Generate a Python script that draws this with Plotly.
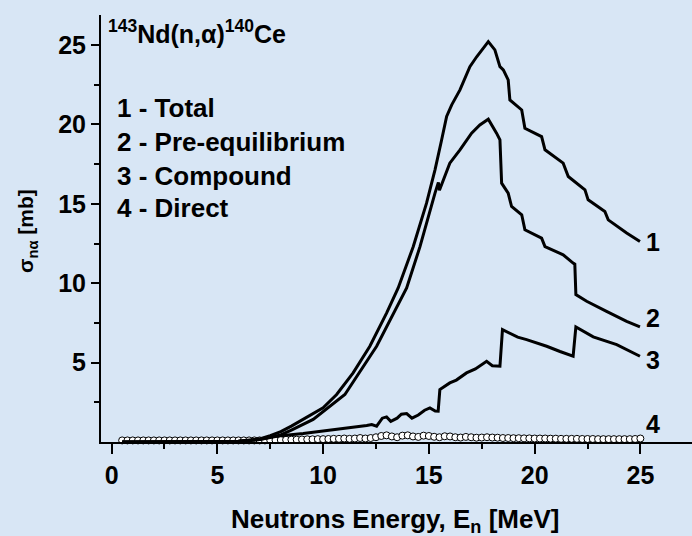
import plotly.graph_objects as go

# ---- data ----
E_total = [0.5, 2, 4, 5, 6, 7, 7.5, 8, 8.5, 9.06, 10.0, 10.64, 11.42, 12.21, 13.0, 13.55, 14.26,
           14.89, 15.29, 15.6, 15.84, 16.08, 16.47, 16.94, 17.26, 17.81, 18.12, 18.36, 18.52,
           18.75, 18.83, 19.39, 19.54, 20.33, 20.49, 21.35, 21.59, 22.38, 22.53, 23.32, 23.48,
           24.35, 24.98]
S_total = [0.0, 0.0, 0.0, 0.01, 0.05, 0.2, 0.4, 0.65, 1.0, 1.42, 2.15, 2.99, 4.35, 6.03, 8.12, 9.7, 12.3,
           15.04, 17.14, 19.0, 20.5, 21.23, 22.17, 23.64, 24.26, 25.21, 24.69, 23.64, 23.43,
           22.8, 21.54, 20.91, 19.76, 19.23, 18.4, 17.56, 16.72, 15.88, 15.25, 14.52, 13.99,
           13.16, 12.63]

E_preeq = [0.5, 5, 6, 7, 7.5, 8.0, 8.5, 9.53, 11.03, 12.53, 13.95, 14.58, 15.29, 15.45, 15.5,
           15.76, 15.99, 16.47, 17.02, 17.41, 17.81, 18.2, 18.36, 18.44, 18.75, 18.91, 19.39,
           19.54, 20.33, 20.49, 21.35, 21.82, 21.9, 21.95, 22.46, 23.4, 24.35, 24.98]
S_preeq = [0.0, 0.01, 0.04, 0.15, 0.3, 0.45, 0.75, 1.42, 2.99, 6.03, 9.7, 12.3, 15.67, 16.35, 15.85,
           16.72, 17.56, 18.4, 19.45, 19.97, 20.33, 19.45, 19.03, 16.3, 15.67, 14.83, 14.31,
           13.36, 12.84, 12.31, 11.79, 11.27, 11.2, 9.28, 8.86, 8.23, 7.6, 7.25]

E_comp = [0.5, 5, 6, 7, 7.49, 8, 9.06, 10.0, 10.5, 11.11, 11.5, 12.06, 12.3, 12.53, 12.8, 13.0,
          13.2, 13.5, 13.7, 13.95, 14.2, 14.5, 14.8, 15.05, 15.3, 15.44, 15.52, 15.99, 16.3,
          16.78, 17.2, 17.73, 18.0, 18.36, 18.48, 18.83, 19.2, 19.62, 20.1, 20.57, 21.2, 21.82,
          21.95, 22.77, 23.88, 24.98]
S_comp = [0.0, 0.02, 0.05, 0.15, 0.26, 0.4, 0.53, 0.68, 0.75, 0.89, 0.95, 1.04, 1.1, 1.0, 1.5, 1.58,
          1.3, 1.5, 1.75, 1.79, 1.5, 1.7, 2.0, 2.15, 1.95, 1.94, 3.3, 3.72, 3.9,
          4.35, 4.6, 5.08, 4.8, 4.77, 7.08, 6.87, 6.6, 6.45, 6.25, 6.03, 5.7, 5.4,
          7.25, 6.62, 6.13, 5.4]

E_dir = [0.5, 0.75, 1.0, 1.25, 1.5, 1.75, 2.0, 2.25, 2.5, 2.75, 3.0, 3.25, 3.5, 3.75, 4.0, 4.25,
         4.5, 4.75, 5.0, 5.25, 5.5, 5.75, 6.0, 6.25, 6.5, 6.75, 7.0, 7.25,
         7.5, 7.75, 8.0, 8.25, 8.5, 8.75, 9.0, 9.25, 9.5, 9.75,
         10.0, 10.25, 10.5, 10.75, 11.0, 11.25, 11.5, 11.75, 12.0, 12.25,
         12.5, 12.75, 13.0, 13.25, 13.5, 13.75, 14.0, 14.25, 14.5, 14.75, 15.0, 15.25, 15.5,
         15.75, 16.0, 16.25, 16.5, 16.75, 17.0, 17.25,
         17.5, 17.75, 18.0, 18.25, 18.5, 18.75, 19.0, 19.25, 19.5, 19.75, 20.0, 20.25, 20.5,
         20.75, 21.0, 21.25, 21.5, 21.75, 22.0, 22.25, 22.5, 22.75, 23.0, 23.25, 23.5, 23.75,
         24.0, 24.25, 24.5, 24.75, 25.0]
S_dir = [0.10, 0.10, 0.10, 0.10, 0.10, 0.10, 0.10, 0.10, 0.10, 0.10, 0.10, 0.10, 0.10,
         0.10, 0.10, 0.10, 0.10, 0.10, 0.10, 0.10, 0.10, 0.10, 0.10, 0.10, 0.10, 0.10, 0.10, 0.10,
         0.12, 0.12, 0.13, 0.14, 0.15, 0.15, 0.16, 0.17, 0.17, 0.18,
         0.18, 0.19, 0.2, 0.2, 0.22, 0.2, 0.22, 0.25, 0.22, 0.25,
         0.3, 0.38, 0.42, 0.35, 0.3, 0.4, 0.42, 0.35, 0.32, 0.4, 0.38, 0.33, 0.3, 0.36, 0.35,
         0.3, 0.28, 0.32, 0.3, 0.27,
         0.28, 0.3, 0.28, 0.27, 0.25, 0.25, 0.24, 0.24, 0.23, 0.23, 0.22, 0.22, 0.22, 0.21,
         0.21, 0.2, 0.2, 0.2, 0.2, 0.19, 0.19, 0.19, 0.18, 0.18, 0.18, 0.18, 0.18, 0.18, 0.18,
         0.19, 0.22]

curve_labels = ["1", "2", "3", "4"]
label_y = [12.6, 7.83, 5.19, 1.16]
legend_lines = ["1 - Total", "2 - Pre-equilibrium", "3 - Compound", "4 - Direct"]
legend_y = [21.04, 18.9, 16.75, 14.75]
x_ticks = [0, 5, 10, 15, 20, 25]
y_ticks = [5, 10, 15, 20, 25]

FONT = "Liberation Sans, Arial, sans-serif"
BG = "#d8e6f5"


def bold(size):
    return dict(family=FONT, size=size, color="black", weight="bold")


fig = go.Figure()
fig.add_trace(go.Scatter(x=E_dir, y=S_dir, mode="markers",
                         marker=dict(symbol="circle", size=7, color="white",
                                     line=dict(color="black", width=1)),
                         cliponaxis=False))
for xs, ys in [(E_total, S_total), (E_preeq, S_preeq), (E_comp, S_comp)]:
    fig.add_trace(go.Scatter(x=xs, y=ys, mode="lines",
                             line=dict(color="black", width=3)))

ann = []
for t, y in zip(curve_labels, label_y):
    ann.append(dict(x=25.15, y=y, xref="x", yref="y", text=t, showarrow=False,
                    xanchor="left", yanchor="middle", font=bold(25)))
for t, y in zip(legend_lines, legend_y):
    ann.append(dict(x=0.15, y=y, xref="x", yref="y", text=t, showarrow=False,
                    xanchor="left", yanchor="middle", font=bold(26)))
ann.append(dict(x=-0.25, y=25.85, xref="x", yref="y",
                text="<sup>143</sup>Nd(n,α)<sup>140</sup>Ce", showarrow=False,
                xanchor="left", yanchor="middle", font=bold(25)))
ann.append(dict(x=0.498, y=-0.185, xref="paper", yref="paper",
                text="Neutrons Energy, E<sub>n</sub> [MeV]", showarrow=False,
                xanchor="center", yanchor="middle", font=bold(26)))
ann.append(dict(x=-0.125, y=13.3, xref="paper", yref="y", textangle=-90,
                text="σ<sub>nα</sub> [mb]", showarrow=False,
                xanchor="center", yanchor="middle", font=bold(21)))

fig.update_layout(
    width=692, height=536,
    margin=dict(l=101, r=0, t=15, b=93.5),
    paper_bgcolor=BG, plot_bgcolor=BG,
    showlegend=False,
    annotations=ann,
    xaxis=dict(range=[-0.5, 27.44], tickvals=x_ticks, showgrid=False, zeroline=False,
               showline=True, linecolor="black", linewidth=2,
               ticks="outside", ticklen=10, tickwidth=2, tickcolor="black",
               minor=dict(tickvals=[2.5, 7.5, 12.5, 17.5, 22.5], ticks="outside",
                          ticklen=5, tickwidth=2, tickcolor="black"),
               tickfont=bold(25)),
    yaxis=dict(range=[0, 26.89], tickvals=y_ticks, showgrid=False, zeroline=False,
               showline=True, linecolor="black", linewidth=2,
               ticks="outside", ticklen=8, tickwidth=2, tickcolor="black",
               minor=dict(tickvals=[2.5, 7.5, 12.5, 17.5, 22.5], ticks="outside",
                          ticklen=5, tickwidth=2, tickcolor="black"),
               tickfont=bold(25), ticklabelstandoff=0),
)

fig.write_html("out.html")
